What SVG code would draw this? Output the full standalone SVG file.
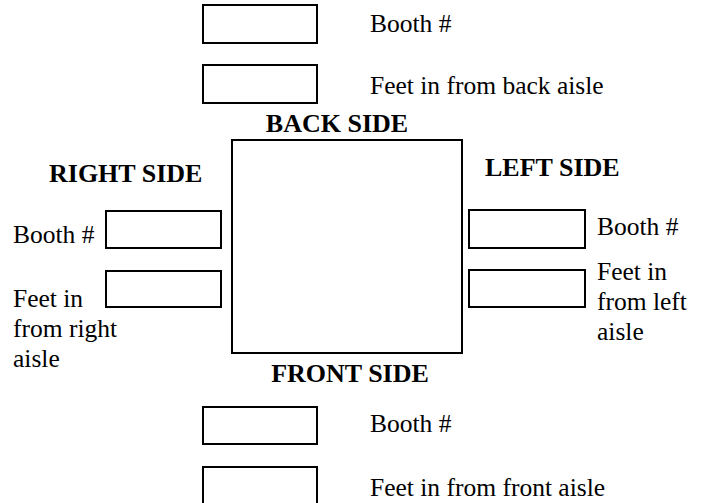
<svg xmlns="http://www.w3.org/2000/svg" width="705" height="503" viewBox="0 0 705 503">
<style>
  .box { fill: #ffffff; stroke: #000000; stroke-width: 2; }
  .lbl { font-family: "Liberation Serif", "Times New Roman", serif; font-size: 25.5px; fill: #000000; }
  .hdr { font-family: "Liberation Serif", "Times New Roman", serif; font-size: 26px; font-weight: bold; fill: #000000; }
</style>
<rect width="705" height="503" fill="#ffffff"/>
<g id="connectors"></g>
<g id="back-booth">
  <rect class="box" x="203" y="5" width="114" height="38"/>
  <text class="lbl" x="370" y="32">Booth #</text>
</g>
<g id="back-feet">
  <rect class="box" x="203" y="65" width="114" height="38"/>
  <text class="lbl" x="370" y="94">Feet in from back aisle</text>
</g>
<g id="booth-space">
  <text class="hdr" x="337" y="132" text-anchor="middle">BACK SIDE</text>
  <rect class="box" x="232" y="140" width="230" height="213"/>
  <text class="hdr" x="350" y="382" text-anchor="middle">FRONT SIDE</text>
</g>
<g id="right-side">
  <text class="hdr" x="49" y="182">RIGHT SIDE</text>
</g>
<g id="right-booth">
  <text class="lbl" x="13" y="243">Booth #</text>
  <rect class="box" x="106" y="211" width="115" height="37"/>
</g>
<g id="right-feet">
  <rect class="box" x="106" y="271" width="115" height="36"/>
  <text class="lbl" x="13" y="307">Feet in</text>
  <text class="lbl" x="13" y="337">from right</text>
  <text class="lbl" x="13" y="367">aisle</text>
</g>
<g id="left-side">
  <text class="hdr" x="485" y="176">LEFT SIDE</text>
</g>
<g id="left-booth">
  <rect class="box" x="469" y="210" width="116" height="38"/>
  <text class="lbl" x="597" y="235">Booth #</text>
</g>
<g id="left-feet">
  <rect class="box" x="469" y="270" width="116" height="37"/>
  <text class="lbl" x="597" y="280">Feet in</text>
  <text class="lbl" x="597" y="310">from left</text>
  <text class="lbl" x="597" y="340">aisle</text>
</g>
<g id="front-booth">
  <rect class="box" x="203" y="407" width="114" height="37"/>
  <text class="lbl" x="370" y="432">Booth #</text>
</g>
<g id="front-feet">
  <rect class="box" x="203" y="467" width="114" height="45"/>
  <text class="lbl" x="370" y="496">Feet in from front aisle</text>
</g>
</svg>
